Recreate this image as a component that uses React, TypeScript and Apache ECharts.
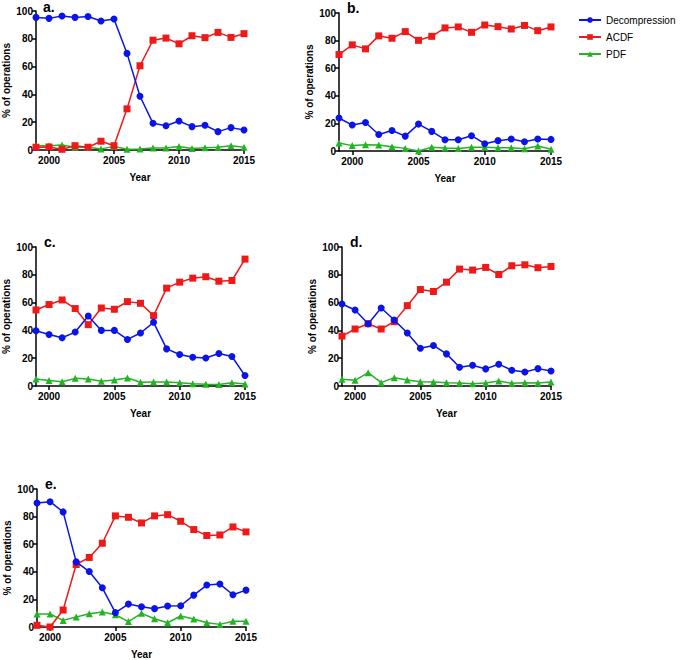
import { useEffect, useRef } from "react";
import * as echarts from "echarts";

const years = [1999, 2000, 2001, 2002, 2003, 2004, 2005, 2006, 2007, 2008, 2009, 2010, 2011, 2012, 2013, 2014, 2015];
const yearTicks = [2000, 2005, 2010, 2015];
const panelLabels = ["a.", "b.", "c.", "d.", "e."];
const seriesNames = ["Decompression", "ACDF", "PDF"];

// panel a
const decompA = [95.4, 94.7, 96.4, 95.4, 96, 92.8, 94.2, 69.5, 38.7, 19.2, 17.5, 20.9, 16.8, 17.8, 13.2, 16.1, 14.4];
const acdfA = [2, 2.2, 0.5, 3.1, 2, 6.3, 3.1, 29.6, 60.6, 79, 80.5, 76.4, 82.2, 80.8, 84.6, 81, 83.7];
const pdfA = [3, 3, 3.6, 2, 2, 0.8, 2.6, 0.5, 0.8, 1.5, 1.5, 2.6, 1, 1.7, 2, 3, 2];

// panel b
const decompB = [23.9, 18.8, 20.7, 12, 14.9, 10.8, 19.5, 14.2, 8.2, 8.2, 11.1, 5.3, 7.5, 8.7, 6.7, 8.7, 8.4];
const acdfB = [69.9, 76.9, 74, 83.4, 81.7, 86.5, 80.2, 83.1, 89.2, 89.9, 86, 91.3, 90.1, 88.4, 91, 87.2, 89.9];
const pdfB = [5.8, 3.9, 4.6, 4.3, 3.1, 1.9, 0, 2.7, 2.2, 1.9, 2.7, 2.7, 2.4, 2.4, 1.7, 3.6, 1.2];

// panel c
const decompC = [39.8, 37.1, 34.7, 38.8, 50.4, 40, 40, 33.5, 38.1, 45.8, 26.7, 22.7, 20.7, 20.2, 23.4, 21.2, 7.5];
const acdfC = [54.7, 58.6, 61.9, 55.7, 44.1, 56.1, 55.2, 60.7, 59.5, 50.6, 70.4, 74.7, 77.6, 78.6, 75.4, 75.9, 91.3];
const pdfC = [5, 3.9, 3.1, 5.5, 5, 3.4, 4.3, 5.8, 2.7, 2.9, 2.9, 2.4, 1.7, 1.2, 1, 2.4, 1.4];

// panel d
const decompD = [59, 54.7, 44.8, 56.1, 47.5, 38.1, 27.2, 29.2, 23.1, 13.5, 14.9, 12.3, 15.7, 11.3, 10.1, 12.5, 10.8];
const acdfD = [35.9, 41, 44.8, 41, 46.3, 57.8, 69.4, 68, 74.7, 84.1, 83.4, 85.3, 80.2, 86.5, 87.2, 85.1, 86];
const pdfD = [4.8, 4.1, 9.6, 2.4, 6, 4.3, 3.1, 2.9, 2.4, 2.2, 1.7, 2.2, 3.6, 1.9, 2.4, 2.2, 2.9];

// panel e
const decompE = [89.9, 90.8, 83.4, 47.2, 40.2, 28.4, 10.4, 16.6, 14.7, 13.3, 15.2, 15.4, 23.1, 30.4, 31.1, 23.4, 26.7];
const acdfE = [1.2, 0, 12.3, 45.3, 50.4, 60.7, 80.5, 79.5, 75.4, 80.5, 81.4, 76.6, 70.6, 66.3, 66.7, 72.5, 68.9];
const pdfE = [9.4, 9.4, 4.8, 7.2, 9.6, 10.8, 8.9, 3.9, 9.9, 6, 3.1, 8, 5.8, 3.1, 1.9, 4.1, 4.1];

const panels = [
  [decompA, acdfA, pdfA],
  [decompB, acdfB, pdfB],
  [decompC, acdfC, pdfC],
  [decompD, acdfD, pdfD],
  [decompE, acdfE, pdfE],
];

const grids = [
  { left: 35, top: 11, width: 209, height: 139 },
  { left: 339, top: 13, width: 212, height: 138 },
  { left: 36, top: 247, width: 209, height: 139 },
  { left: 342, top: 247, width: 209, height: 139 },
  { left: 37, top: 489, width: 209, height: 139 },
];

const colors = ["#0a14e8", "#ee1a1a", "#22b422"];
const symbols = ["circle", "rect", "triangle"];
const font = "Liberation Sans";

const App = () => {
  const chartRef = useRef(null);

  useEffect(() => {
    if (!chartRef.current) return;
    const chart = echarts.init(chartRef.current, null, { renderer: "svg" });

    const axisLine = { show: true, lineStyle: { color: "#000", width: 1.5 } };
    const axisTick = { show: true, length: 4, lineStyle: { color: "#000", width: 1.5 } };
    const labelStyle = { color: "#000", fontFamily: font, fontWeight: "bold", fontSize: 10 };

    const option = {
      animation: false,
      textStyle: { fontFamily: font },
      title: grids.map((g, i) => ({
        text: panelLabels[i],
        left: g.left + 8,
        top: Math.max(0, g.top - 12),
        padding: 0,
        textStyle: { fontFamily: font, fontWeight: "bold", fontSize: 14, color: "#000" },
      })),
      legend: {
        data: seriesNames,
        orient: "vertical",
        left: 578,
        top: 15,
        padding: 0,
        itemWidth: 22,
        itemHeight: 7,
        itemGap: 7,
        textStyle: { fontFamily: font, fontSize: 10, color: "#000" },
      },
      grid: grids,
      xAxis: grids.map((_, i) => ({
        type: "value",
        gridIndex: i,
        min: 1999,
        max: 2015,
        name: "Year",
        nameLocation: "middle",
        nameGap: 22,
        nameTextStyle: labelStyle,
        axisLine,
        axisTick: { ...axisTick, customValues: yearTicks },
        axisLabel: { ...labelStyle, customValues: yearTicks, margin: 5, formatter: (v: number) => String(v) },
        splitLine: { show: false },
      })),
      yAxis: grids.map((_, i) => ({
        type: "value",
        gridIndex: i,
        min: 0,
        max: 100,
        interval: 20,
        name: "% of operations",
        nameLocation: "middle",
        nameGap: 25,
        nameTextStyle: labelStyle,
        axisLine,
        axisTick,
        axisLabel: { ...labelStyle, margin: 3 },
        splitLine: { show: false },
      })),
      series: panels.flatMap((panel, i) =>
        panel.map((values, k) => ({
          name: seriesNames[k],
          type: "line",
          xAxisIndex: i,
          yAxisIndex: i,
          data: years.map((y, j) => [y, values[j]]),
          symbol: symbols[k],
          symbolSize: 7,
          itemStyle: { color: colors[k] },
          lineStyle: { color: colors[k], width: 1.5 },
          z: 3 - k,
        }))
      ),
    };

    chart.setOption(option);
    return () => {
      chart.dispose();
    };
  }, []);

  return (
    <div
      ref={chartRef}
      style={{ position: "absolute", left: 0, top: 0, width: 684, height: 660, background: "#fff" }}
    />
  );
};

export default App;
